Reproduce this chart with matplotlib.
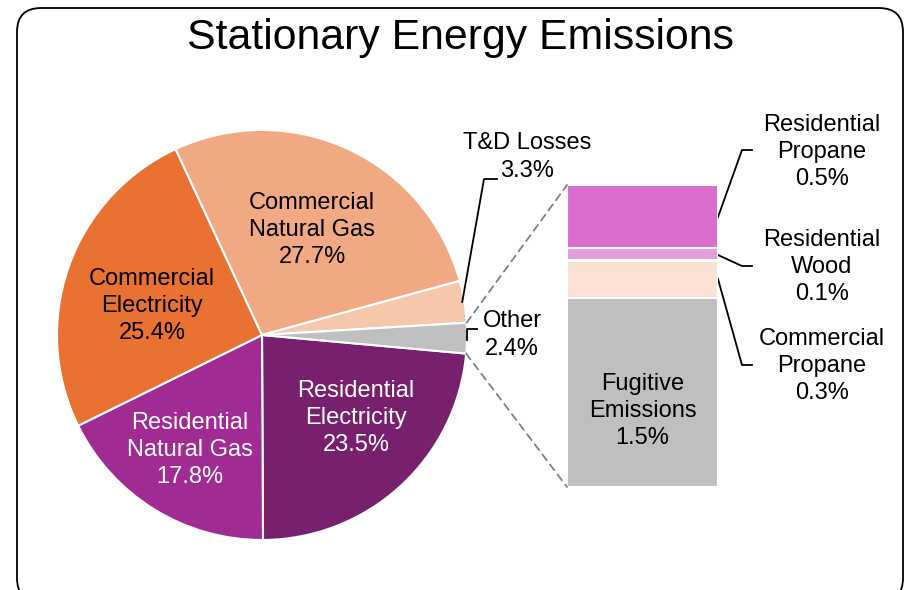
import matplotlib
matplotlib.use("Agg")
import matplotlib.pyplot as plt
import numpy as np
from matplotlib.patches import FancyBboxPatch, ConnectionPatch

plt.rcParams['font.family'] = ['Liberation Sans', 'DejaVu Sans']

# main pie (clockwise from just below 3 o'clock)
pie_labels = ['Residential\nElectricity', 'Residential\nNatural Gas', 'Commercial\nElectricity',
              'Commercial\nNatural Gas', 'T&D Losses', 'Other']
pie_values = [23.5, 17.8, 25.4, 27.7, 3.3, 2.4]
pie_colors = ['#78206E', '#A02B93', '#E97132', '#F1A983', '#F7C7AC', '#BFBFBF']

# breakdown of "Other" (bottom to top)
bar_labels = ['Fugitive\nEmissions', 'Commercial\nPropane', 'Residential\nWood', 'Residential\nPropane']
bar_values = [1.5, 0.3, 0.1, 0.5]
bar_colors = ['#BFBFBF', '#FBE2D5', '#E59EDD', '#D86DCD']

W, H = 905, 590


def Y(py):
    # pixel row -> data y
    return H - py


fig = plt.figure(figsize=(W / 100, H / 100), dpi=100)
ax = fig.add_axes([0, 0, 1, 1])
ax.set_xlim(0, W)
ax.set_ylim(0, H)
ax.set_aspect('equal')
ax.axis('off')

frame = FancyBboxPatch((17, -12), 886, H - 8 + 12, boxstyle="round,pad=0,rounding_size=24",
                       fc='white', ec='black', lw=1.3, zorder=0)
ax.add_patch(frame)

ax.text(W / 2 + 8, Y(38), 'Stationary Energy Emissions', ha='center', va='center', fontsize=30.8)

cx, cy, r = 262, Y(335), 205
wedges, _ = ax.pie(pie_values, colors=pie_colors, startangle=-5.2, counterclock=False,
                   center=(cx, cy), radius=r, frame=True,
                   wedgeprops=dict(edgecolor='white', linewidth=1.5))
ax.set_xlim(0, W)
ax.set_ylim(0, H)
ax.axis('off')

fs = 17
ls = 1.32
inside = {0: (356, 418, 'white'), 1: (190, 450, 'white'), 2: (152, 306, 'black'), 3: (312, 230, 'black')}
for i, (px, py, c) in inside.items():
    ax.text(px, Y(py), f'{pie_labels[i]}\n{pie_values[i]:.1f}%', ha='center', va='center',
            fontsize=fs, color=c, linespacing=ls)

# T&D Losses label with leader
w = wedges[4]
mid = np.deg2rad((w.theta1 + w.theta2) / 2)
p0 = (cx + r * 0.99 * np.cos(mid), cy + r * 0.99 * np.sin(mid))
ax.plot([p0[0], 484, 497], [p0[1], Y(179), Y(179)], color='black', lw=1.3)
ax.text(527, Y(157), f'{pie_labels[4]}\n{pie_values[4]:.1f}%', ha='center', va='center',
        fontsize=fs, linespacing=ls)

# Other label with leader
w = wedges[5]
mid = np.deg2rad((w.theta1 + w.theta2) / 2)
p0 = (cx + r * np.cos(mid), cy + r * np.sin(mid))
ax.plot([p0[0], p0[0], 477], [p0[1] - 2, Y(329), Y(329)], color='black', lw=1.3)
ax.text(512, Y(335), f'{pie_labels[5]}\n{pie_values[5]:.1f}%', ha='center', va='center',
        fontsize=fs, linespacing=ls)

# bar of the "Other" slice
bx0, bx1, by0, by1 = 567, 718, 487, 185
bax = fig.add_axes([bx0 / W, Y(by0) / H, (bx1 - bx0) / W, (by0 - by1) / H])
bottom = 0
for v, c in zip(bar_values, bar_colors):
    bax.bar(0, v, width=1, bottom=bottom, color=c, edgecolor='white', linewidth=1.5)
    bottom += v
bax.set_xlim(-0.5, 0.5)
bax.set_ylim(0, sum(bar_values))
bax.axis('off')

bax.text((bx0 + bx1) / 2, Y(411), f'{bar_labels[0]}\n{bar_values[0]:.1f}%', transform=ax.transData,
         ha='center', va='center', fontsize=fs, linespacing=ls)

# dashed connectors from "Other" slice to the bar
t_top = np.deg2rad(wedges[5].theta2)
t_bot = np.deg2rad(wedges[5].theta1)
for t, yb in [(t_top, sum(bar_values)), (t_bot, 0)]:
    con = ConnectionPatch(xyA=(cx + r * np.cos(t), cy + r * np.sin(t)), coordsA=ax.transData,
                          xyB=(-0.5, yb), coordsB=bax.transData,
                          color='#808080', lw=1.3, linestyle=(0, (4, 3)))
    fig.add_artist(con)

# right-hand labels for the bar segments
right = [(3, 217, 150, 152), (2, 255, 266, 267), (1, 279, 365, 366)]
for i, ly, ty, txty in right:
    ax.plot([bx1, 742, 752], [Y(ly), Y(ty), Y(ty)], color='black', lw=1.3)
    ax.text(822, Y(txty), f'{bar_labels[i]}\n{bar_values[i]:.1f}%', ha='center', va='center',
            fontsize=fs, linespacing=ls)

fig.savefig('out.png', dpi=100)
